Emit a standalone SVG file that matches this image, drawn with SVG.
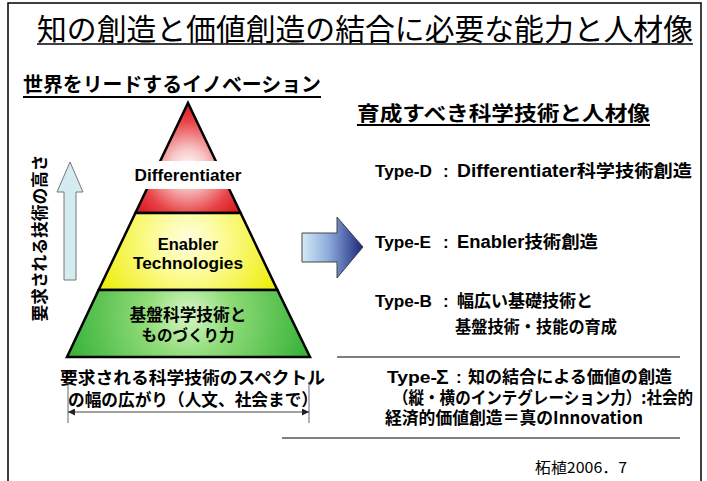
<svg xmlns="http://www.w3.org/2000/svg" width="707" height="481" viewBox="0 0 707 481">
<defs>
<style>
.jp{font-family:"Noto Sans CJK JP","Liberation Sans",sans-serif;fill:#000}
.b{font-weight:bold}
.lat{font-family:"Liberation Sans","Noto Sans CJK JP",sans-serif;font-weight:bold;fill:#000}
.tier{stroke:#000;stroke-width:2.5;stroke-linejoin:miter}
.dim{stroke:#666;stroke-width:1;fill:none}
.rule{stroke:#555;stroke-width:1.5}
</style>
<radialGradient id="gRed" cx="188" cy="168" r="62" gradientUnits="userSpaceOnUse">
<stop offset="0" stop-color="#ffffff"/><stop offset="0.3" stop-color="#f8c8c8"/><stop offset="0.75" stop-color="#e84448"/><stop offset="1" stop-color="#dc2026"/>
</radialGradient>
<radialGradient id="gYel" cx="188" cy="240" r="95" gradientUnits="userSpaceOnUse">
<stop offset="0" stop-color="#fefee0"/><stop offset="0.4" stop-color="#fbfb90"/><stop offset="1" stop-color="#eeee10"/>
</radialGradient>
<radialGradient id="gGrn" cx="188" cy="315" r="120" gradientUnits="userSpaceOnUse">
<stop offset="0" stop-color="#d8f6c8"/><stop offset="0.35" stop-color="#90dc78"/><stop offset="1" stop-color="#3cb43c"/>
</radialGradient>
<linearGradient id="gArr" x1="302" y1="0" x2="363" y2="0" gradientUnits="userSpaceOnUse">
<stop offset="0" stop-color="#d2ecf8"/><stop offset="0.45" stop-color="#8aa8d8"/><stop offset="1" stop-color="#18267a"/>
</linearGradient>
<marker id="ah" viewBox="0 0 10 10" refX="10" refY="5" markerWidth="9" markerHeight="7" markerUnits="userSpaceOnUse" orient="auto-start-reverse">
<path d="M0,0 L10,5 L0,10 z" fill="#222"/>
</marker>
</defs>

<rect x="8" y="3" width="693" height="500" fill="#fff" stroke="#000" stroke-width="1.5"/>

<g id="title">
<text class="jp" x="37" y="40" font-size="30" textLength="656" lengthAdjust="spacingAndGlyphs">知の創造と価値創造の結合に必要な能力と人材像</text>
<line x1="37" y1="44" x2="693" y2="44" stroke="#000" stroke-width="1.5"/>
</g>

<g id="left-heading">
<text class="jp b" x="23" y="92" font-size="20" textLength="298" lengthAdjust="spacingAndGlyphs">世界をリードするイノベーション</text>
<line x1="23" y1="97" x2="321" y2="97" stroke="#000" stroke-width="2"/>
</g>

<g id="right-heading">
<text class="jp b" x="357" y="121" font-size="20" textLength="293" lengthAdjust="spacingAndGlyphs">育成すべき科学技術と人材像</text>
<line x1="357" y1="125" x2="650" y2="125" stroke="#000" stroke-width="2"/>
</g>

<g id="tier-differentiater">
<polygon class="tier" points="188,103 240.6,213 135.4,213" fill="url(#gRed)"/>
<rect x="136" y="161" width="114" height="28" fill="#fff"/>
<text class="lat" x="188" y="181" font-size="16.5" text-anchor="middle" textLength="107" lengthAdjust="spacingAndGlyphs">Differentiater</text>
</g>

<g id="tier-enabler">
<polygon class="tier" points="135.4,213 240.6,213 277.4,290 98.6,290" fill="url(#gYel)"/>
<text class="lat" x="188" y="250" font-size="16.5" text-anchor="middle">Enabler</text>
<text class="lat" x="188" y="269" font-size="16.5" text-anchor="middle" textLength="110" lengthAdjust="spacingAndGlyphs">Technologies</text>
</g>

<g id="tier-base">
<polygon class="tier" points="98.6,290 277.4,290 310,357 67,357" fill="url(#gGrn)"/>
<text class="jp b" x="188" y="321" font-size="16.5" text-anchor="middle" textLength="117" lengthAdjust="spacingAndGlyphs">基盤科学技術と</text>
<text class="jp b" x="188" y="341" font-size="16" text-anchor="middle" textLength="93" lengthAdjust="spacingAndGlyphs">ものづくり力</text>
</g>

<g id="height-label">
<text class="jp b" transform="translate(46,238) rotate(-90)" x="0" y="0" font-size="16.5" text-anchor="middle" textLength="167" lengthAdjust="spacingAndGlyphs">要求される技術の高さ</text>
</g>

<g id="spectrum-label">
<text class="jp b" x="60" y="384" font-size="17.5" textLength="265" lengthAdjust="spacingAndGlyphs">要求される科学技術のスペクトル</text>
<text class="jp b" x="68" y="406" font-size="17" textLength="250" lengthAdjust="spacingAndGlyphs">の幅の広がり（人文、社会まで）</text>
</g>

<g id="connectors">
<polygon points="70,162 83,192 76,192 76,280 64,280 64,192 57,192" fill="#d4ecf0" stroke="#777" stroke-width="1"/>
<polygon points="302,233 337,233 337,217 363,247 337,278 337,262 302,262" fill="url(#gArr)" stroke="#444" stroke-width="1"/>
<line class="dim" x1="68" y1="382" x2="68" y2="423"/>
<line class="dim" x1="309" y1="382" x2="309" y2="423"/>
<line x1="68" y1="412" x2="309" y2="412" stroke="#444" stroke-width="1.2" marker-start="url(#ah)" marker-end="url(#ah)"/>
</g>

<g id="type-d">
<text class="lat" x="375" y="177" font-size="17" textLength="57" lengthAdjust="spacingAndGlyphs">Type-D</text>
<text class="lat" x="443" y="177" font-size="17">:</text>
<text class="lat" x="457" y="177" font-size="17.5" textLength="235" lengthAdjust="spacingAndGlyphs">Differentiater<tspan class="jp b">科学技術創造</tspan></text>
</g>

<g id="type-e">
<text class="lat" x="375" y="248" font-size="17" textLength="56" lengthAdjust="spacingAndGlyphs">Type-E</text>
<text class="lat" x="443" y="248" font-size="17">:</text>
<text class="lat" x="457" y="248" font-size="17.5" textLength="141" lengthAdjust="spacingAndGlyphs">Enabler<tspan class="jp b">技術創造</tspan></text>
</g>

<g id="type-b">
<text class="lat" x="375" y="307" font-size="17" textLength="57" lengthAdjust="spacingAndGlyphs">Type-B</text>
<text class="lat" x="443" y="307" font-size="17">:</text>
<text class="jp b" x="457" y="307" font-size="17" textLength="136" lengthAdjust="spacingAndGlyphs">幅広い基礎技術と</text>
<text class="jp b" x="455" y="333" font-size="16.5" textLength="162" lengthAdjust="spacingAndGlyphs">基盤技術・技能の育成</text>
</g>

<line class="rule" x1="337" y1="357" x2="680" y2="357"/>

<g id="type-sigma">
<text class="lat" x="387" y="383" font-size="17" textLength="50" lengthAdjust="spacingAndGlyphs">Type-</text>
<text class="lat" x="436" y="384" font-size="21">Σ</text>
<text class="lat" x="456" y="383" font-size="17">:</text>
<text class="jp b" x="468" y="383" font-size="17" textLength="204" lengthAdjust="spacingAndGlyphs">知の結合による価値の創造</text>
<text class="jp b" x="393" y="404" font-size="17" textLength="300" lengthAdjust="spacingAndGlyphs">（縦・横のインテグレーション力）:社会的</text>
<text class="jp b" x="385" y="424" font-size="17" textLength="258" lengthAdjust="spacingAndGlyphs">経済的価値創造＝真のInnovation</text>
</g>

<line class="rule" x1="282" y1="438" x2="680" y2="438"/>

<g id="credit">
<text class="jp" x="535" y="473" font-size="15" textLength="92" lengthAdjust="spacingAndGlyphs">柘植2006．7</text>
</g>
</svg>
